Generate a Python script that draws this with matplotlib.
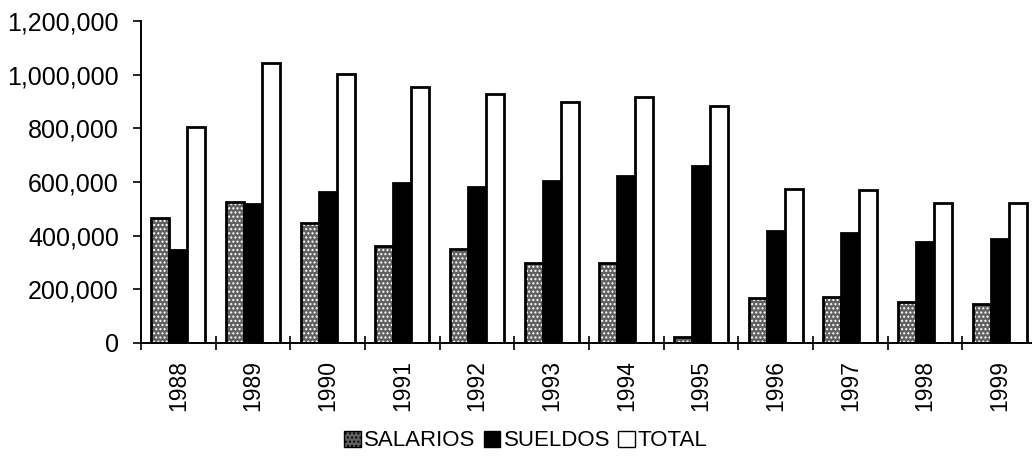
import numpy as np
import matplotlib.pyplot as plt
from matplotlib.patches import Patch
from matplotlib.ticker import FuncFormatter

plt.rcParams['font.family'] = ['Liberation Sans', 'DejaVu Sans']

years = ['1988', '1989', '1990', '1991', '1992', '1993',
         '1994', '1995', '1996', '1997', '1998', '1999']
salarios = [465000, 527000, 448000, 361000, 349000, 299000,
            299000, 21000, 167000, 173000, 154000, 145000]
sueldos = [347000, 517000, 562000, 595000, 583000, 604000,
           624000, 660000, 419000, 409000, 375000, 386000]
total = [806000, 1042000, 1003000, 953000, 927000, 899000,
         918000, 883000, 575000, 570000, 523000, 523000]

fig = plt.figure(figsize=(10.32, 4.63), dpi=100)
ax = fig.add_axes([141 / 1032, 120 / 463, 896 / 1032, 322 / 463])

x = np.arange(len(years))
w = 0.24

# salarios: stippled grey fill with a black outline on top
ax.bar(x - w, salarios, w, color='#606060', hatch='....', edgecolor='white', linewidth=0)
ax.bar(x - w, salarios, w, fill=False, edgecolor='black', linewidth=2)
ax.bar(x, sueldos, w, color='black', edgecolor='black', linewidth=2)
ax.bar(x + w, total, w, color='white', edgecolor='black', linewidth=2)

ax.set_xlim(-0.5, len(years) - 0.5)
ax.set_ylim(0, 1200000)
ax.set_yticks(np.arange(0, 1200001, 200000))
ax.yaxis.set_major_formatter(FuncFormatter(lambda v, p: f'{int(v):,}'))
ax.set_xticks(x - 0.5, minor=False)
ax.set_xticklabels([])
ax.set_xticks(x, minor=True)
ax.set_xticklabels(years, minor=True, rotation=90)
ax.tick_params(axis='x', which='minor', length=0, pad=12, labelsize=16.5)
ax.tick_params(axis='x', which='major', direction='inout', length=10, width=1.2)
ax.tick_params(axis='y', direction='out', length=6, width=1.2, labelsize=18, pad=10)

for s in ('top', 'right'):
    ax.spines[s].set_visible(False)
for s in ('left', 'bottom'):
    ax.spines[s].set_linewidth(1.4)

handles = [
    Patch(facecolor='#606060', hatch='....', edgecolor='black', label='SALARIOS'),
    Patch(facecolor='black', edgecolor='black', label='SUELDOS'),
    Patch(facecolor='white', edgecolor='black', label='TOTAL'),
]
fig.legend(handles=handles, loc='center', bbox_to_anchor=(526 / 1032, 1 - 441 / 463),
           ncol=3, frameon=False, fontsize=16, handlelength=0.75, handleheight=0.75,
           handletextpad=0.15, columnspacing=0.35)

fig.savefig('out.png', dpi=100)
